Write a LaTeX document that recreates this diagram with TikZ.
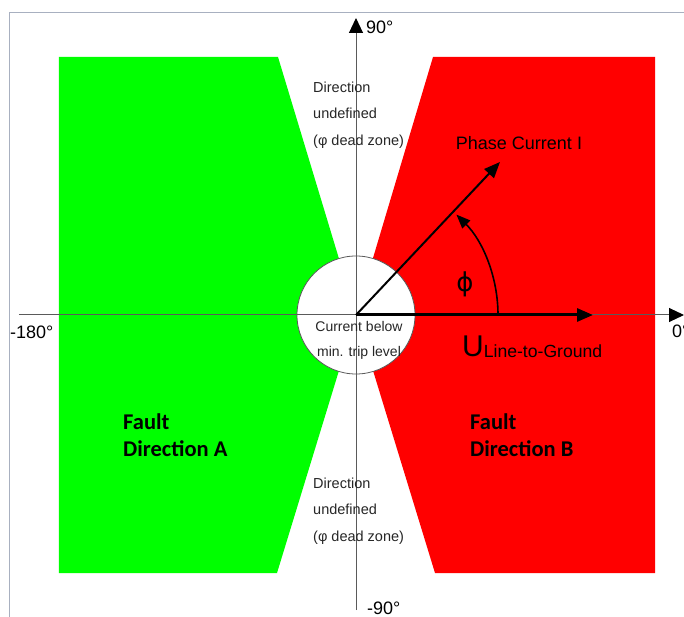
\documentclass[tikz,border=0pt]{standalone}
\usepackage{fontspec}
\setmainfont{Liberation Sans}
\newfontfamily\faultfont{Carlito}
\newfontfamily\phifont{DejaVu Sans}
\usetikzlibrary{arrows.meta}
\definecolor{axisgray}{HTML}{5A5A5A}
\definecolor{framegray}{HTML}{A8B0C0}
\definecolor{zoneA}{HTML}{00FF00}
\definecolor{zoneB}{HTML}{FF0000}
\tikzset{
  axisline/.style={line width=1pt, color=axisgray, -{Triangle[length=15pt,width=14pt,color=black]}},
  vec/.style={line width=#1, color=black, -{Triangle[length=16pt,width=13pt]}},
  vec/.default=2pt,
  anglearc/.style={line width=1.6pt, -{Triangle[length=14pt,width=11pt]}},
  deg/.style={font=\fontsize{18}{18}\selectfont, inner sep=0pt},
  note/.style={font=\fontsize{14.5}{26.5}\selectfont, inner sep=0pt, align=left, text=black!85},
  fault/.style={font=\faultfont\bfseries\fontsize{22.5}{27}\selectfont, inner sep=0pt, align=left, anchor=west},
}
\begin{document}
\begin{tikzpicture}[x=1pt,y=1pt]
  \useasboundingbox (-356,-302) rectangle (328,315);
  \coordinate (o) at (0,0);
  % frame
  \draw[framegray,line width=1pt] (-346,-302) -- (-346,302) -- (328,302);
  % fault zones
  \fill[zoneA] (-297,258) -- (-78,258) -- (o) -- (-79,-258) -- (-297,-258) -- cycle;
  \fill[zoneB] (77,258) -- (299,258) -- (299,-258) -- (79,-258) -- (o) -- cycle;
  % min. current circle
  \node[circle,draw=axisgray,line width=0.8pt,fill=white,minimum size=118pt,inner sep=0pt] (dz) at (o) {};
  % axes
  \coordinate (xl) at (-337,0);
  \coordinate (xr) at (328,0);
  \coordinate (yb) at (0,-295);
  \coordinate (yt) at (0,297);
  \draw[axisline] (xl) -- (xr);
  \draw[axisline] (yb) -- (yt);
  \node[deg,anchor=west] (d90) at (10,288) {90°};
  \node[deg,anchor=west] (dm90) at (11,-293) {-90°};
  \node[deg,anchor=west] (dm180) at (-346,-17) {-180°};
  \node[deg,anchor=west] (d0) at (316,-16) {0°};
  % phasors
  \coordinate (utip) at (237,0);
  \coordinate (itip) at (144,153);
  \coordinate (arcstart) at (142,0);
  \draw[vec=3pt] (o) -- (utip);
  \draw[vec] (o) -- (itip);
  \draw[anglearc] (arcstart) arc[start angle=0,end angle=45,radius=142];
  \node[font=\fontsize{18}{18}\selectfont,inner sep=0pt] (ilab) at (163,172) {Phase Current I};
  \node[font=\phifont\fontsize{26}{26}\selectfont,inner sep=0pt] (phi) at (109,31) {ϕ};
  \node[anchor=base west,inner sep=0pt] (ulab) at (106,-42)
    {{\fontsize{30}{30}\selectfont U}{\fontsize{17.6}{17.6}\selectfont\raisebox{-1pt}{Line-to-Ground}}};
  % texts
  \node[note,anchor=west] (dtop) at (-43,200) {Direction\\undefined\\(φ dead zone)};
  \node[note,anchor=west] (dbot) at (-43,-196) {Direction\\undefined\\(φ dead zone)};
  \node[note,align=center,font=\fontsize{14}{25}\selectfont] (cur) at (3,-25) {Current below\\min. trip level};
  \node[fault] (fa) at (-233,-120) {Fault\\Direction A};
  \node[fault] (fb) at (114,-120) {Fault\\Direction B};
\end{tikzpicture}
\end{document}
